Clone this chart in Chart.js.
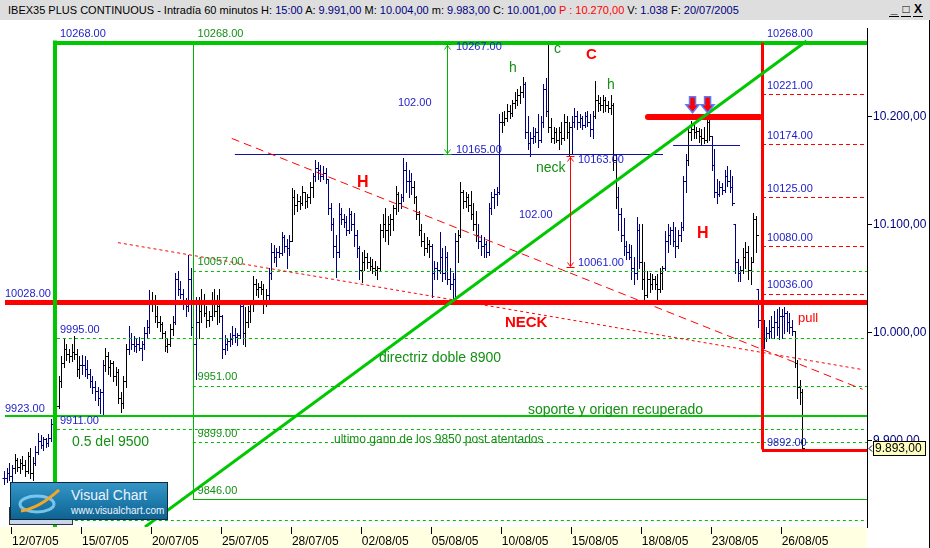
<!DOCTYPE html>
<html>
<head>
<meta charset="utf-8">
<script src="https://cdn.jsdelivr.net/npm/chart.js@4/dist/chart.umd.min.js"></script>
<style>
  body { margin: 0; width: 930px; height: 548px; overflow: hidden; background: #fff; position: relative;
         font-family: "Liberation Sans", Arial, sans-serif; }
  #hdr { position: absolute; left: 0; top: 0; width: 930px; height: 20px; background: #dedede;
         font-size: 11px; line-height: 20px; white-space: nowrap; color: #000; }
  #hdr .t { position: absolute; left: 8px; top: 0; }
  #hdr .n { color: #000080; }
  #hdr .r { color: #ff0000; }
  #btns { position: absolute; left: 889px; top: 2px; font-size: 12px; line-height: 14px; font-weight: bold; }
  #btns span { display: inline-block; margin-right: 2px; border-bottom: 1px solid #000; width: 10px; text-align: center; }
  #wrap { position: absolute; left: 0; top: 20px; width: 930px; height: 528px; }
  #shadowbox { position: absolute; left: 9px; top: 507px; width: 62px; height: 16px; background: #c9d5ea; border: 1px solid #333; }
  #logo { position: absolute; left: 10px; top: 482px; width: 156px; height: 36px; border: 1px solid #0b2a40;
          background: linear-gradient(180deg, #3596c6 0%, #1d7aab 55%, #0f6390 100%); color: #eef4ff; }
  #logo .a { position: absolute; left: 60px; top: 4px; font-size: 14px; }
  #logo .b { position: absolute; left: 60px; top: 22px; font-size: 10px; }
  #logo svg { position: absolute; left: 6px; top: 6px; }
</style>
</head>
<body>
<div id="hdr"><span class="t">IBEX35 PLUS CONTINUOUS - Intradía 60 minutos H: <span class="n">15:00</span> A: <span class="n">9.991,00</span> M: <span class="n">10.004,00</span> m: <span class="n">9.983,00</span> C: <span class="n">10.001,00</span> <span class="r">P : 10.270,00</span> V: <span class="n">1.038</span> F: <span class="n">20/07/2005</span></span>
  <div id="btns"><span>_</span><span>&#9633;</span><span>X</span></div>
</div>
<div id="wrap"><canvas id="c" width="930" height="528"></canvas></div>
<div id="shadowbox"></div>
<div id="logo">
  <svg width="50" height="26" viewBox="0 0 50 26">
    <ellipse cx="20" cy="15" rx="17" ry="8" fill="none" stroke="#8fd8ff" stroke-width="3" opacity="0.8"/>
    <path d="M4 22 C 18 20, 30 12, 42 1" fill="none" stroke="#f5a623" stroke-width="3"/>
  </svg>
  <span class="a">Visual Chart</span>
  <span class="b">www.visualchart.com</span>
</div>
<script>
// fechas del eje (cada 3 sesiones, 9 velas horarias por sesion)
const dateLabels = ['12/07/05', '15/07/05', '20/07/05', '25/07/05', '28/07/05', '02/08/05',
                    '05/08/05', '10/08/05', '15/08/05', '18/08/05', '23/08/05', '26/08/05'];
const dateTickIdx = [0, 27, 54, 81, 108, 135, 162, 189, 216, 243, 270, 297];
const firstIdx = -3; // ultimas velas del 11/07
const priceTicks = [9900, 10000, 10100, 10200];

// velas de 60 minutos, una sesion por linea
const highs = [
  9872, 9875, 9880,
  9878, 9888, 9884, 9883, 9886, 9882, 9890, 9893, 9885,
  9895, 9907, 9905, 9904, 9903, 9906, 9920, 9929, 9935,
  9960, 9978, 9994, 9990, 9985, 9990, 9997, 9985, 9978,
  9979, 9978, 9975, 9966, 9960, 9955, 9950, 9948, 9975,
  9986, 9982, 9975, 9974, 9968, 9966, 9945, 9960, 9990,
  10006, 10000, 9997, 9995, 9996, 9992, 10005, 10012, 10039,
  10038, 10035, 10025, 10015, 10010, 10002, 9995, 10008, 10015,
  10055, 10057, 10048, 10040, 10032, 10072, 10060, 10035, 10033,
  10033, 10040, 10036, 10025, 10020, 10038, 10040, 10035, 10040,
  10016, 9998, 9995, 10000, 10006, 10004, 10000, 10030, 10028,
  10024, 10025, 10030, 10052, 10050, 10046, 10048, 10045, 10040,
  10060, 10083, 10081, 10078, 10080, 10093, 10090, 10087, 10090,
  10134, 10132, 10128, 10126, 10136, 10130, 10128, 10139, 10148,
  10160, 10158, 10155, 10154, 10152, 10142, 10120, 10106, 10090,
  10120, 10115, 10110, 10108, 10115, 10112, 10111, 10095, 10080,
  10075, 10076, 10074, 10070, 10068, 10066, 10062, 10100, 10110,
  10115, 10108, 10110, 10118, 10136, 10130, 10128, 10161, 10158,
  10150, 10148, 10140, 10126, 10112, 10100, 10092, 10088, 10086,
  10082, 10066, 10065, 10093, 10078, 10080, 10075, 10060, 10055,
  10092, 10095, 10139, 10132, 10130, 10128, 10131, 10120, 10112,
  10100, 10090, 10088, 10085, 10120, 10130, 10133, 10135, 10202,
  10204, 10205, 10211, 10210, 10215, 10222, 10225, 10228, 10236,
  10232, 10200, 10185, 10190, 10189, 10202, 10200, 10230, 10235,
  10267, 10198, 10190, 10189, 10190, 10195, 10202, 10200, 10195,
  10200, 10208, 10205, 10202, 10200, 10204, 10205, 10202, 10205,
  10233, 10220, 10218, 10220, 10218, 10214, 10220, 10212, 10165,
  10135, 10115, 10106, 10085, 10082, 10081, 10070, 10107, 10100,
  10100, 10065, 10057, 10055, 10054, 10052, 10054, 10060, 10062,
  10094, 10100, 10098, 10102, 10098, 10095, 10102, 10145, 10165,
  10190, 10196, 10192, 10190, 10189, 10188, 10190, 10199, 10198,
  10182, 10170, 10142, 10140, 10138, 10150, 10154, 10150, 10145,
  10100, 10068, 10062, 10078, 10084, 10080, 10070, 10111, 10108,
  10040, 10020, 10012, 10005, 10012, 10015, 10020, 10022, 10024,
  10022, 10024, 10020, 10018, 10012, 10002, 9975, 9956, 9948
];
const lows = [
  9860, 9862, 9864,
  9862, 9870, 9872, 9870, 9874, 9868, 9870, 9866, 9864,
  9878, 9888, 9893, 9892, 9894, 9895, 9900, 9912, 9915,
  9930, 9950, 9968, 9975, 9973, 9974, 9976, 9960, 9958,
  9962, 9960, 9958, 9950, 9944, 9938, 9933, 9926, 9924,
  9965, 9962, 9960, 9955, 9952, 9935, 9927, 9930, 9950,
  9980, 9985, 9983, 9982, 9984, 9975, 9985, 9995, 10000,
  10020, 10010, 10005, 10002, 9995, 9983, 9982, 9988, 9998,
  10008, 10035, 10032, 10022, 10015, 10020, 9998, 9960, 9957,
  9995, 10010, 10015, 10005, 10006, 10012, 10015, 10008, 10010,
  9977, 9980, 9984, 9988, 9990, 9991, 9989, 9995, 9990,
  9988, 10005, 10010, 10020, 10035, 10033, 10036, 10018, 10025,
  10030, 10050, 10065, 10062, 10070, 10072, 10075, 10060, 10072,
  10085, 10110, 10112, 10114, 10118, 10115, 10116, 10120, 10125,
  10140, 10142, 10140, 10142, 10138, 10110, 10095, 10070, 10051,
  10070, 10100, 10098, 10090, 10092, 10095, 10080, 10070, 10050,
  10047, 10058, 10060, 10058, 10055, 10053, 10050, 10058, 10088,
  10085, 10082, 10090, 10095, 10110, 10112, 10115, 10122, 10130,
  10125, 10128, 10120, 10105, 10090, 10080, 10072, 10075, 10070,
  10033, 10050, 10050, 10055, 10048, 10050, 10045, 10040, 10030,
  10030, 10065, 10088, 10115, 10116, 10112, 10105, 10095, 10085,
  10078, 10072, 10070, 10070, 10072, 10110, 10115, 10118, 10128,
  10185, 10192, 10196, 10198, 10200, 10208, 10210, 10212, 10218,
  10180, 10170, 10163, 10175, 10176, 10172, 10176, 10190, 10200,
  10185, 10176, 10175, 10176, 10170, 10174, 10178, 10180, 10163,
  10165, 10190, 10188, 10190, 10188, 10190, 10191, 10182, 10180,
  10198, 10205, 10206, 10204, 10205, 10204, 10202, 10150, 10115,
  10095, 10085, 10072, 10068, 10068, 10050, 10045, 10050, 10060,
  10040, 10027, 10033, 10038, 10040, 10040, 10030, 10038, 10040,
  10058, 10075, 10082, 10080, 10070, 10078, 10085, 10095, 10130,
  10155, 10178, 10180, 10180, 10176, 10174, 10175, 10176, 10178,
  10150, 10125, 10120, 10126, 10128, 10130, 10136, 10130, 10118,
  10055, 10048, 10048, 10055, 10060, 10050, 10045, 10065, 10075,
  10005, 10000, 9986, 9992, 9995, 9996, 9995, 9998, 9994,
  9995, 10000, 10002, 10000, 9998, 9968, 9940, 9934, 9892
];
const closes = [
  9866, 9870, 9868,
  9875, 9882, 9876, 9880, 9878, 9872, 9886, 9870, 9880,
  9890, 9900, 9896, 9902, 9898, 9903, 9916, 9922, 9932,
  9955, 9972, 9985, 9980, 9978, 9982, 9980, 9966, 9970,
  9970, 9966, 9962, 9955, 9950, 9946, 9940, 9945, 9970,
  9978, 9968, 9972, 9960, 9964, 9940, 9935, 9955, 9985,
  9995, 9990, 9988, 9990, 9986, 9990, 10000, 10005, 10030,
  10030, 10015, 10010, 10008, 10000, 9988, 9990, 10003, 10010,
  10050, 10040, 10036, 10030, 10025, 10050, 10005, 9990, 10010,
  10020, 10030, 10018, 10012, 10015, 10030, 10020, 10025, 10015,
  9985, 9990, 9992, 9994, 9998, 9996, 9998, 10025, 10000,
  10010, 10020, 10028, 10045, 10040, 10042, 10040, 10030, 10035,
  10055, 10075, 10070, 10075, 10074, 10088, 10080, 10078, 10085,
  10125, 10118, 10122, 10120, 10130, 10122, 10125, 10135, 10145,
  10152, 10150, 10145, 10148, 10142, 10115, 10100, 10080, 10075,
  10110, 10105, 10102, 10095, 10110, 10100, 10090, 10078, 10058,
  10065, 10070, 10065, 10062, 10060, 10058, 10060, 10095, 10100,
  10095, 10100, 10105, 10115, 10128, 10120, 10125, 10150, 10140,
  10140, 10135, 10125, 10110, 10095, 10085, 10078, 10082, 10080,
  10055, 10060, 10058, 10070, 10055, 10070, 10050, 10045, 10050,
  10085, 10090, 10130, 10122, 10125, 10118, 10110, 10100, 10090,
  10085, 10080, 10082, 10075, 10115, 10125, 10128, 10130, 10195,
  10195, 10198, 10205, 10203, 10212, 10215, 10220, 10222, 10230,
  10185, 10175, 10180, 10182, 10185, 10178, 10195, 10225, 10205,
  10190, 10180, 10185, 10178, 10185, 10180, 10195, 10185, 10190,
  10195, 10200, 10195, 10198, 10192, 10200, 10195, 10188, 10200,
  10215, 10212, 10210, 10215, 10210, 10208, 10210, 10160, 10125,
  10110, 10090, 10080, 10075, 10070, 10060, 10055, 10095, 10065,
  10050, 10035, 10050, 10045, 10050, 10045, 10040, 10055, 10060,
  10085, 10090, 10095, 10085, 10080, 10090, 10098, 10140, 10160,
  10185, 10188, 10185, 10186, 10182, 10180, 10178, 10195, 10182,
  10155, 10130, 10128, 10135, 10132, 10145, 10140, 10135, 10120,
  10065, 10055, 10058, 10070, 10075, 10058, 10065, 10105, 10090,
  10012, 10010, 9995, 10000, 10002, 10005, 10010, 10005, 10015,
  10015, 10018, 10010, 10005, 10002, 9972, 9950, 9945, 9893
];

// tramos de velas pintadas en azul (indice de vela)
const blueRanges = [[-3, 0], [9, 17], [27, 35], [45, 53], [63, 71], [81, 89], [99, 107], [117, 134],
                    [150, 154], [162, 171], [180, 188], [198, 206], [216, 224], [234, 242],
                    [252, 260], [270, 281], [288, 301]];

// niveles dibujados por el analista
const boxTop = 10268, boxBottom = 9846, neckLevel = 10028, supportLevel = 9923, bottomDash = 9827;
const greenDashLeft = [9995, 9911];
const greenDashMid = [10057, 9951, 9899];
const redLevelsRight = [10221, 10174, 10125, 10080, 10036];
const targetLow = 9892;
const shoulderTop = 10165, shoulder2 = 10173, resistRed = 10199;
const greenMeasure = [10267, 10165], redMeasure = [10163, 10061];

const RED = '#ff0000', GREEN = '#00c800', DGREEN = '#139013', BLUE = '#1c1cc8', NAVY = '#000080';

const opens = closes.map((c, k) => {
  const prev = k ? closes[k - 1] : c;
  return Math.min(highs[k], Math.max(lows[k], prev));
});
const isBlue = idx => blueRanges.some(r => idx >= r[0] && idx <= r[1]);

function fmtEs(v) {
  const [a, b] = v.toFixed(2).split('.');
  return a.replace(/\B(?=(\d{3})+(?!\d))/g, '.') + ',' + b;
}

const ohlcPlugin = {
  id: 'ohlc',
  afterDatasetsDraw(chart) {
    const { ctx, chartArea: a, scales: { y } } = chart;
    const meta = chart.getDatasetMeta(0);
    ctx.save();
    ctx.beginPath();
    ctx.rect(a.left, a.top, a.right - a.left, a.bottom - a.top);
    ctx.clip();
    ctx.lineWidth = 1;
    meta.data.forEach((el, k) => {
      const px = Math.round(el.x) + 0.5;
      const top = Math.round(y.getPixelForValue(highs[k]));
      const bot = Math.round(y.getPixelForValue(lows[k]));
      const oy = Math.round(y.getPixelForValue(opens[k])) + 0.5;
      const cy = Math.round(y.getPixelForValue(closes[k])) + 0.5;
      ctx.strokeStyle = isBlue(firstIdx + k) ? NAVY : '#000';
      ctx.beginPath();
      ctx.moveTo(px, top); ctx.lineTo(px, bot + 1);
      ctx.moveTo(px - 2, oy); ctx.lineTo(px, oy);
      ctx.moveTo(px, cy); ctx.lineTo(px + 2.5, cy);
      ctx.stroke();
    });
    ctx.restore();
  }
};

const notes = [
  { t: 'H', i: 133.1, v: 10138.6, c: RED, f: 'bold 16px' },
  { t: 'H', i: 264.3, v: 10091.4, c: RED, f: 'bold 16px' },
  { t: 'C', i: 221.5, v: 10256.8, c: RED, f: 'bold 15px' },
  { t: 'c', i: 209.1, v: 10262.3, c: DGREEN, f: '14px' },
  { t: 'h', i: 191.8, v: 10244.1, c: DGREEN, f: '14px' },
  { t: 'h', i: 229.6, v: 10228.6, c: DGREEN, f: '14px' },
  { t: 'neck', i: 202.2, v: 10152.3, c: DGREEN, f: '14px' },
  { t: 'NECK', i: 190.2, v: 10009.5, c: RED, f: 'bold 15px' },
  { t: 'pull', i: 303.3, v: 10013.2, c: RED, f: '13px' },
  { t: '0.5 del 9500', i: 23.15, v: 9898.6, c: DGREEN, f: '14px' },
  { t: 'directriz doble 8900', i: 141.6, v: 9976.8, c: DGREEN, f: '14px' },
  { t: 'soporte y origen recuperado', i: 199.1, v: 9928.6, c: DGREEN, f: '14px' },
  { t: 'ultimo gann de los 9850 post atentados', i: 124.25, v: 9901.4, c: DGREEN, f: '12px' },
  { t: (greenMeasure[0] - greenMeasure[1]).toFixed(2), i: 148.9, v: 10212.3, c: BLUE, f: '11px' },
  { t: (redMeasure[0] - redMeasure[1]).toFixed(2), i: 195.6, v: 10108.6, c: BLUE, f: '11px' }
];

// etiquetas de nivel: [indice, valor, desplazamiento px, color]
const levelLabels = [
  [18.5, boxTop, -9, BLUE], [18.5, 9995, -8, BLUE], [18.5, 9911, -8, BLUE],
  [-2.7, neckLevel, -8, BLUE], [-2.7, supportLevel, -7, BLUE],
  [71.6, boxTop, -9, DGREEN], [71.6, 10057, -9, DGREEN], [71.6, 9951, -9, DGREEN],
  [71.6, 9899, -8, DGREEN], [71.6, boxBottom, -8, DGREEN],
  [171.3, greenMeasure[0], 3, BLUE], [171.3, greenMeasure[1], -4, BLUE],
  [218.4, redMeasure[0], 4, BLUE], [218.4, redMeasure[1], -4, BLUE],
  [291.3, boxTop, -9, BLUE], [291.3, 10221, -8, BLUE], [291.3, 10174, -8, BLUE],
  [291.3, 10125, -8, BLUE], [291.3, 10080, -8, BLUE], [291.3, 10036, -9, BLUE],
  [291.3, targetLow, -7, BLUE]
];

const drawPlugin = {
  id: 'dibujos',
  beforeDraw(chart) {
    const { ctx, chartArea: a } = chart;
    ctx.save();
    ctx.fillStyle = '#ffffe1';
    ctx.fillRect(0, a.bottom, a.right, chart.height - a.bottom);
    ctx.restore();
  },
  afterDraw(chart) {
    const { ctx, chartArea: a, scales: { x, y } } = chart;
    const X = i => x.getPixelForValue(i), Y = v => y.getPixelForValue(v);
    const R = x.max;
    const seg = (i1, v1, i2, v2, color, w, dash) => {
      let x1 = X(i1), y1 = Y(v1), x2 = X(i2), y2 = Y(v2);
      const off = (w % 2) ? 0.5 : 0;
      if (v1 === v2) { y1 = y2 = Math.round(y1) + off; }
      if (i1 === i2) { x1 = x2 = Math.round(x1) + off; }
      ctx.beginPath();
      ctx.strokeStyle = color; ctx.lineWidth = w;
      ctx.setLineDash(dash || []);
      ctx.moveTo(x1, y1); ctx.lineTo(x2, y2); ctx.stroke();
    };
    const measure = (i, v1, v2, color) => {
      seg(i, v1, i, v2, color, 1);
      const px = Math.round(X(i)) + 0.5, t = Math.round(Y(v1)) + 0.5, b = Math.round(Y(v2)) + 0.5;
      ctx.setLineDash([]);
      ctx.beginPath();
      ctx.moveTo(px - 4, t); ctx.lineTo(px + 4, t);
      ctx.moveTo(px - 4, b); ctx.lineTo(px + 4, b);
      ctx.moveTo(px - 3, t + 5); ctx.lineTo(px, t + 1); ctx.lineTo(px + 3, t + 5);
      ctx.moveTo(px - 3, b - 5); ctx.lineTo(px, b - 1); ctx.lineTo(px + 3, b - 5);
      ctx.stroke();
    };
    const downArrow = (i, v) => {
      const px = X(i), py = Y(v);
      ctx.setLineDash([]);
      ctx.beginPath();
      ctx.moveTo(px, py);
      ctx.lineTo(px - 6.5, py - 8); ctx.lineTo(px - 3, py - 8); ctx.lineTo(px - 3, py - 16);
      ctx.lineTo(px + 3, py - 16); ctx.lineTo(px + 3, py - 8); ctx.lineTo(px + 6.5, py - 8);
      ctx.closePath();
      ctx.fillStyle = RED; ctx.fill();
      ctx.strokeStyle = '#5a7cff'; ctx.lineWidth = 1.5; ctx.stroke();
    };

    ctx.save();
    ctx.beginPath();
    ctx.rect(a.left, a.top, a.right - a.left, a.bottom - a.top);
    ctx.clip();

    greenDashLeft.forEach(v => seg(17.3, v, R, v, '#00bb00', 1, [3, 3]));
    seg(17.3, bottomDash, R, bottomDash, '#00bb00', 1, [3, 3]);
    greenDashMid.forEach(v => seg(69.8, v, R, v, '#00bb00', 1, [3, 3]));
    redLevelsRight.forEach(v => seg(289.4, v, R, v, RED, 1, [4, 3]));

    seg(69.8, boxTop, 69.8, boxBottom, '#00b400', 1);
    seg(69.8, boxBottom, R, boxBottom, '#00b400', 1);
    seg(86.0, shoulderTop, 251.2, shoulderTop, '#1010a0', 1);
    seg(255.1, shoulder2, 280.9, shoulder2, '#1010a0', 1);

    // lineas de tendencia rojas
    seg(84.8, 10179.5, 328.2, 9947.7, RED, 1, [8, 5]);
    seg(40.9, 10083.2, 328.2, 9965.9, RED, 1, [3, 3]);

    seg(-2.7, neckLevel, R, neckLevel, RED, 5);
    seg(-2.7, supportLevel, R, supportLevel, GREEN, 2);
    seg(16.6, boxTop, R, boxTop, GREEN, 4);
    seg(16.6, boxTop + 2, 16.6, y.min, GREEN, 4);

    ctx.lineCap = 'round';
    seg(245.4, resistRed, 288.5, resistRed, RED, 6);
    ctx.lineCap = 'butt';

    seg(289.4, boxTop, 289.4, targetLow, RED, 3);
    seg(289.4, targetLow, R, targetLow, RED, 3);

    // directriz
    seg(51.3, 9820.5, 306.6, 10269.5, GREEN, 3);

    measure(167.8, greenMeasure[0], greenMeasure[1], '#00b400');
    measure(215.2, redMeasure[0], redMeasure[1], RED);
    downArrow(262.6, 10203.2);
    downArrow(268.4, 10203.2);

    ctx.setLineDash([]);
    ctx.textBaseline = 'middle';
    ctx.textAlign = 'left';
    levelLabels.forEach(([i, v, dy, c]) => {
      ctx.font = '11px "Liberation Sans", Arial, sans-serif';
      ctx.fillStyle = c;
      ctx.fillText(v.toFixed(2), X(i), Y(v) + dy);
    });
    notes.forEach(n => {
      ctx.font = n.f + ' "Liberation Sans", Arial, sans-serif';
      ctx.fillStyle = n.c;
      ctx.fillText(n.t, X(n.i), Y(n.v));
    });
    ctx.restore();

    // caja del ultimo precio en el eje
    const last = closes[closes.length - 1];
    const ly = Math.round(Y(last));
    ctx.save();
    ctx.fillStyle = '#ffffc0';
    ctx.strokeStyle = '#000';
    ctx.lineWidth = 1;
    ctx.fillRect(a.right + 6, ly - 7, 52, 14);
    ctx.strokeRect(a.right + 6.5, ly - 6.5, 52, 14);
    ctx.fillStyle = '#000';
    ctx.font = '12px "Liberation Sans", Arial, sans-serif';
    ctx.textBaseline = 'middle';
    ctx.fillText(fmtEs(last), a.right + 8, ly + 0.5);
    ctx.beginPath();
    ctx.moveTo(a.right + 5, ly - 2.5); ctx.lineTo(a.right + 2, ly + 0.5); ctx.lineTo(a.right + 5, ly + 3.5);
    ctx.stroke();
    ctx.beginPath();
    ctx.moveTo(929.5, 0); ctx.lineTo(929.5, chart.height);
    ctx.stroke();
    ctx.restore();
  }
};

Chart.defaults.font.family = '"Liberation Sans", Arial, sans-serif';

new Chart(document.getElementById('c'), {
  type: 'bar',
  data: {
    datasets: [{
      data: highs.map((h, k) => ({ x: firstIdx + k, y: [lows[k], h] })),
      backgroundColor: 'rgba(0,0,0,0)',
      borderWidth: 0,
      barThickness: 1,
      grouped: false
    }]
  },
  options: {
    responsive: false,
    animation: false,
    devicePixelRatio: 1,
    layout: { padding: 0 },
    plugins: { legend: { display: false }, tooltip: { enabled: false } },
    scales: {
      x: {
        type: 'linear',
        offset: false,
        min: -4.63,
        max: 329.92,
        afterBuildTicks: s => { s.ticks = dateTickIdx.map(v => ({ value: v })); },
        afterFit: s => { s.height = 21; },
        grid: { drawOnChartArea: false, offset: false, tickLength: 7, color: '#000' },
        border: { display: false },
        ticks: {
          autoSkip: false, maxRotation: 0, align: 'start', padding: 0,
          color: '#000', font: { size: 12 },
          callback: (v, k) => dateLabels[k]
        }
      },
      y: {
        position: 'right',
        min: 9820.45,
        max: 10281.36,
        afterBuildTicks: s => { s.ticks = priceTicks.map(v => ({ value: v })); },
        afterFit: s => { s.width = 63; },
        grid: { drawOnChartArea: false, tickLength: 5, color: '#000' },
        border: { display: true, color: '#000' },
        ticks: { color: NAVY, padding: 1, font: { size: 12 }, callback: v => fmtEs(v) }
      }
    }
  },
  plugins: [ohlcPlugin, drawPlugin]
});
</script>
</body>
</html>
